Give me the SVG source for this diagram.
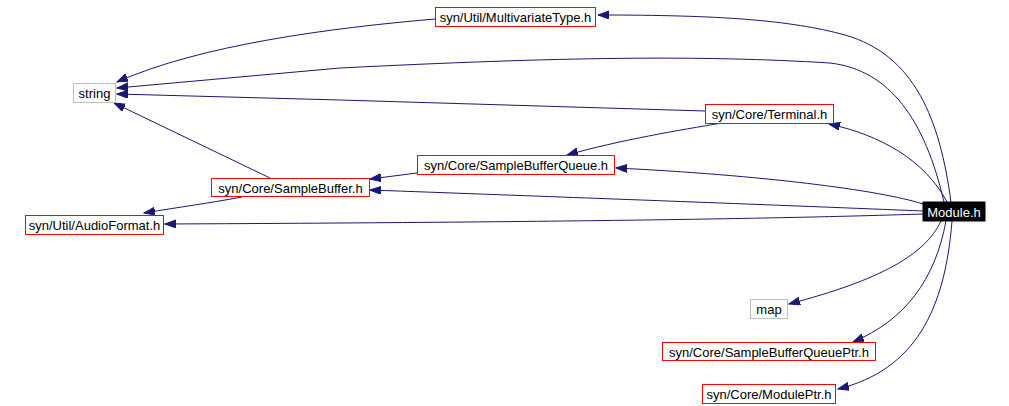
<svg xmlns="http://www.w3.org/2000/svg" width="1009" height="406" viewBox="0 0 1009 406">
<style>
.n rect{fill:#fff;stroke:#ff0000;stroke-width:1}
.n.g rect{stroke:#bfbfbf}
.n.m rect{fill:#000;stroke:#000}
.n text{font-family:"Liberation Sans",Arial,sans-serif;font-size:13px;fill:#000;text-anchor:middle}
.n.m text{fill:#fff}
.e path{fill:none;stroke:#191970;stroke-width:1;marker-end:url(#ah)}
</style>
<defs>
<marker id="ah" markerUnits="userSpaceOnUse" markerWidth="12" markerHeight="9" refX="11" refY="4" orient="auto">
<path d="M0,0 L11,4 L0,8 z" fill="#191970" stroke="#191970" stroke-width="1"/>
</marker>
</defs>
<rect width="1009" height="406" fill="#fff"/>
<g class="e">
<path d="M951,202 C940,120 915,55 845,35 C790,20 720,15 598,15"/>
<path d="M944,202 C925,120 890,70 830,63 C700,55 560,57 340,68 L117,88"/>
<path d="M947,202 C925,160 880,135 829,124"/>
<path d="M705,111 L340,100 L117,94"/>
<path d="M722,123 C680,130 620,140 567,155"/>
<path d="M435,19 C330,28 200,45 117,82"/>
<path d="M923,204 C880,190 760,175 616,168"/>
<path d="M923,211 C850,208 700,202 370,190"/>
<path d="M417,173 L370,179"/>
<path d="M270,178 L114,103"/>
<path d="M242,197 C210,203 180,207 144,213"/>
<path d="M923,214 C800,218 600,222 165,224"/>
<path d="M941,221 C925,255 880,280 789,304"/>
<path d="M946,221 C935,280 905,320 853,342"/>
<path d="M952,221 C945,310 915,370 838,389"/>
</g>
<g id="n_module" class="n m"><rect x="923" y="202" width="62" height="19"/><text x="954" y="216.5">Module.h</text></g>
<g id="n_multivariate" class="n"><rect x="435.5" y="7.5" width="160" height="19"/><text x="515.5" y="22">syn/Util/MultivariateType.h</text></g>
<g id="n_string" class="n g"><rect x="73.5" y="83.5" width="42" height="19"/><text x="94.5" y="98">string</text></g>
<g id="n_terminal" class="n"><rect x="705.5" y="104.5" width="128" height="19"/><text x="769.5" y="119">syn/Core/Terminal.h</text></g>
<g id="n_sbq" class="n"><rect x="417.5" y="155.5" width="197" height="19"/><text x="516" y="170">syn/Core/SampleBufferQueue.h</text></g>
<g id="n_sb" class="n"><rect x="211.5" y="178.5" width="158" height="18"/><text x="290.5" y="192.5">syn/Core/SampleBuffer.h</text></g>
<g id="n_audio" class="n"><rect x="25.5" y="215.5" width="138" height="19"/><text x="94.5" y="230">syn/Util/AudioFormat.h</text></g>
<g id="n_map" class="n g"><rect x="750.5" y="299.5" width="37" height="19"/><text x="769" y="314">map</text></g>
<g id="n_sbqptr" class="n"><rect x="662.5" y="342.5" width="213" height="18"/><text x="769" y="356.5">syn/Core/SampleBufferQueuePtr.h</text></g>
<g id="n_moduleptr" class="n"><rect x="702.5" y="384.5" width="133" height="19"/><text x="769" y="399">syn/Core/ModulePtr.h</text></g>
</svg>
